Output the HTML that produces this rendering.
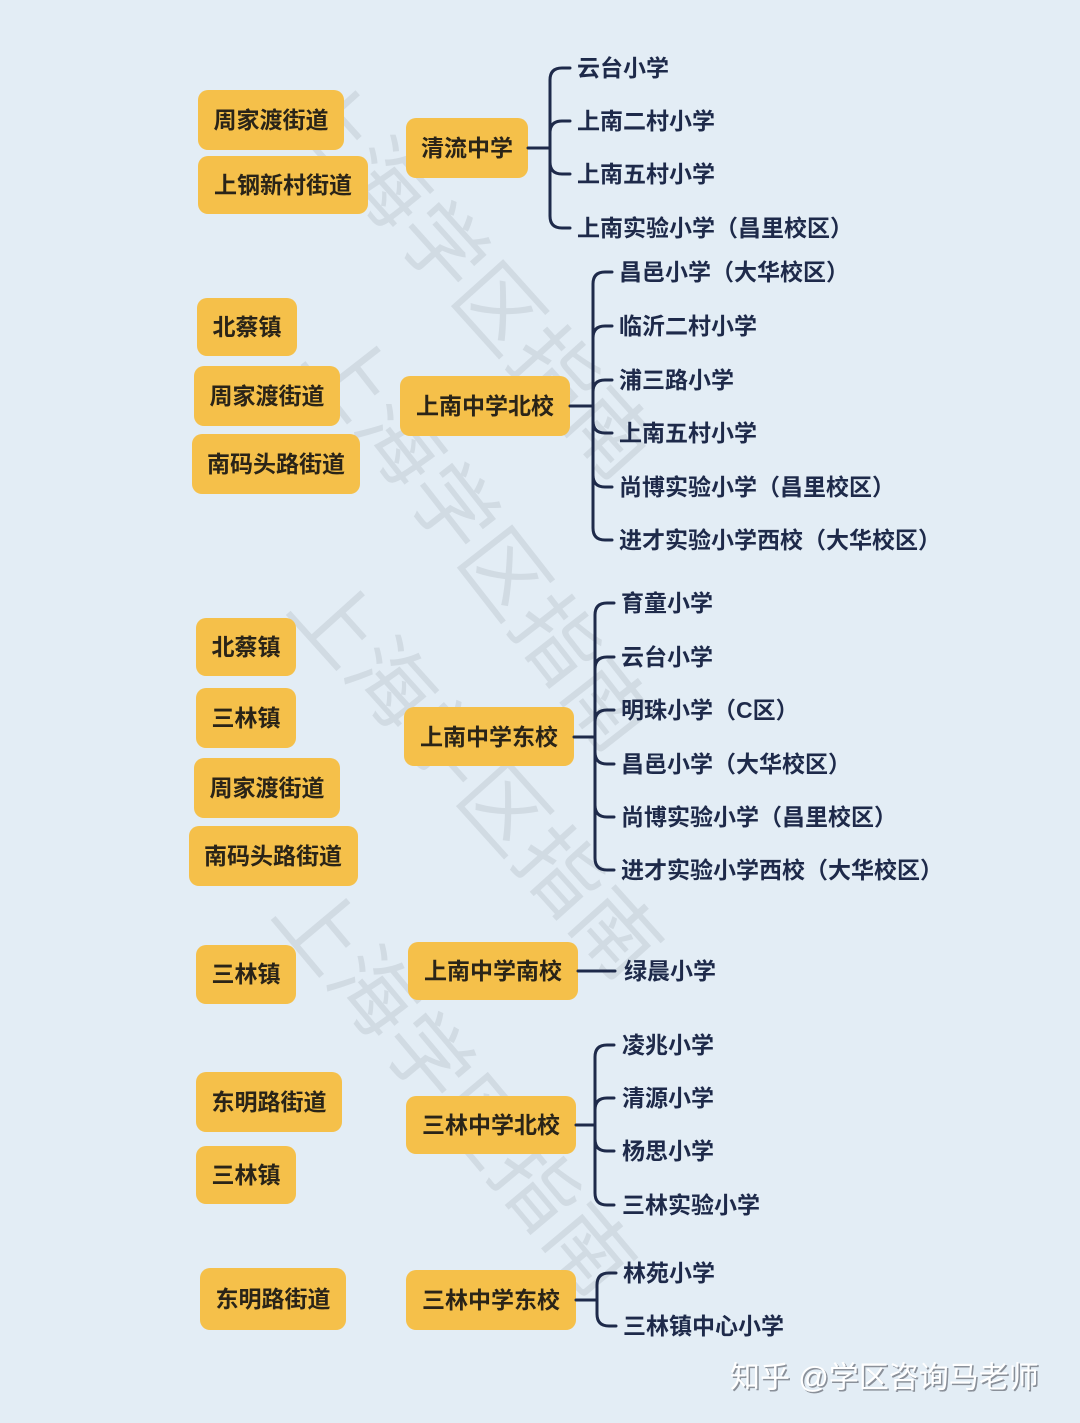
<!DOCTYPE html>
<html><head><meta charset="utf-8">
<style>
html,body{margin:0;padding:0;background:#e3edf5;}
svg{display:block;}
.b{fill:#f5c04a;}
.bt{font-family:"Liberation Sans","Noto Sans CJK SC",sans-serif;font-weight:bold;font-size:23px;fill:#2a2418;dominant-baseline:central;text-anchor:middle;}
.it{font-family:"Liberation Sans","Noto Sans CJK SC",sans-serif;font-weight:bold;font-size:23px;fill:#1e2a4a;dominant-baseline:central;}
.ln{fill:none;stroke:#1e2a4a;stroke-width:3;stroke-linecap:round;}
.wm{font-family:"Liberation Sans","Noto Sans CJK SC",sans-serif;font-size:84px;fill:#aab3bd;opacity:0.3;}
</style></head><body>
<svg width="1080" height="1423" viewBox="0 0 1080 1423" xmlns="http://www.w3.org/2000/svg">
<rect width="1080" height="1423" fill="#e3edf5"/>

<text class="wm" transform="translate(280,110) rotate(48)">上海学区指南</text>
<text class="wm" transform="translate(300,360) rotate(52)">上海学区指南</text>
<text class="wm" transform="translate(285,610) rotate(48)">上海学区指南</text>
<text class="wm" transform="translate(270,915) rotate(50)">上海学区指南</text>

<rect class="b" x="198" y="90" width="146" height="60" rx="10"/><text class="bt" x="271" y="120">周家渡街道</text>
<rect class="b" x="198" y="156" width="170" height="58" rx="10"/><text class="bt" x="283" y="185">上钢新村街道</text>
<rect class="b" x="406" y="118" width="122" height="60" rx="10"/><text class="bt" x="467" y="148">清流中学</text>
<path class="ln" d="M528,148 H550 M550,80 V216 M550,80 Q550,68 562,68 H570 M550,133 Q550,121 562,121 H570 M550,162 Q550,174 562,174 H570 M550,216 Q550,228 562,228 H570"/>
<text class="it" x="577" y="68">云台小学</text>
<text class="it" x="577" y="121">上南二村小学</text>
<text class="it" x="577" y="174">上南五村小学</text>
<text class="it" x="577" y="228">上南实验小学（昌里校区）</text>

<rect class="b" x="197" y="298" width="100" height="58" rx="10"/><text class="bt" x="247" y="327">北蔡镇</text>
<rect class="b" x="194" y="366" width="146" height="60" rx="10"/><text class="bt" x="267" y="396">周家渡街道</text>
<rect class="b" x="192" y="434" width="168" height="60" rx="10"/><text class="bt" x="276" y="464">南码头路街道</text>
<rect class="b" x="400" y="376" width="170" height="60" rx="10"/><text class="bt" x="485" y="406">上南中学北校</text>
<path class="ln" d="M570,406 H593 M593,284 V528 M593,284 Q593,272 605,272 H612 M593,338 Q593,326 605,326 H612 M593,392 Q593,380 605,380 H612 M593,421 Q593,433 605,433 H612 M593,475 Q593,487 605,487 H612 M593,528 Q593,540 605,540 H612"/>
<text class="it" x="619" y="272">昌邑小学（大华校区）</text>
<text class="it" x="619" y="326">临沂二村小学</text>
<text class="it" x="619" y="380">浦三路小学</text>
<text class="it" x="619" y="433">上南五村小学</text>
<text class="it" x="619" y="487">尚博实验小学（昌里校区）</text>
<text class="it" x="619" y="540">进才实验小学西校（大华校区）</text>

<rect class="b" x="196" y="618" width="100" height="58" rx="10"/><text class="bt" x="246" y="647">北蔡镇</text>
<rect class="b" x="196" y="688" width="100" height="60" rx="10"/><text class="bt" x="246" y="718">三林镇</text>
<rect class="b" x="194" y="758" width="146" height="60" rx="10"/><text class="bt" x="267" y="788">周家渡街道</text>
<rect class="b" x="189" y="826" width="169" height="60" rx="10"/><text class="bt" x="273" y="856">南码头路街道</text>
<rect class="b" x="404" y="707" width="170" height="59" rx="10"/><text class="bt" x="489" y="737">上南中学东校</text>
<path class="ln" d="M574,737 H595 M595,615 V858 M595,615 Q595,603 607,603 H614 M595,669 Q595,657 607,657 H614 M595,722 Q595,710 607,710 H614 M595,752 Q595,764 607,764 H614 M595,805 Q595,817 607,817 H614 M595,858 Q595,870 607,870 H614"/>
<text class="it" x="621" y="603">育童小学</text>
<text class="it" x="621" y="657">云台小学</text>
<text class="it" x="621" y="710">明珠小学（C区）</text>
<text class="it" x="621" y="764">昌邑小学（大华校区）</text>
<text class="it" x="621" y="817">尚博实验小学（昌里校区）</text>
<text class="it" x="621" y="870">进才实验小学西校（大华校区）</text>

<rect class="b" x="196" y="945" width="100" height="59" rx="10"/><text class="bt" x="246" y="974">三林镇</text>
<rect class="b" x="408" y="942" width="170" height="58" rx="10"/><text class="bt" x="493" y="971">上南中学南校</text>
<path class="ln" d="M578,971 H615"/>
<text class="it" x="624" y="971">绿晨小学</text>

<rect class="b" x="196" y="1072" width="146" height="60" rx="10"/><text class="bt" x="269" y="1102">东明路街道</text>
<rect class="b" x="196" y="1146" width="100" height="58" rx="10"/><text class="bt" x="246" y="1175">三林镇</text>
<rect class="b" x="406" y="1096" width="170" height="58" rx="10"/><text class="bt" x="491" y="1125">三林中学北校</text>
<path class="ln" d="M576,1125 H595 M595,1057 V1193 M595,1057 Q595,1045 607,1045 H614 M595,1110 Q595,1098 607,1098 H614 M595,1139 Q595,1151 607,1151 H614 M595,1193 Q595,1205 607,1205 H614"/>
<text class="it" x="622" y="1045">凌兆小学</text>
<text class="it" x="622" y="1098">清源小学</text>
<text class="it" x="622" y="1151">杨思小学</text>
<text class="it" x="622" y="1205">三林实验小学</text>

<rect class="b" x="200" y="1268" width="146" height="62" rx="10"/><text class="bt" x="273" y="1299">东明路街道</text>
<rect class="b" x="406" y="1270" width="170" height="60" rx="10"/><text class="bt" x="491" y="1300">三林中学东校</text>
<path class="ln" d="M576,1300 H597 M597,1285 V1314 M597,1285 Q597,1273 609,1273 H616 M597,1314 Q597,1326 609,1326 H616"/>
<text class="it" x="623" y="1273">林苑小学</text>
<text class="it" x="623" y="1326">三林镇中心小学</text>

<text x="730" y="1378" style="font-family:'Liberation Sans','Noto Sans CJK SC',sans-serif;font-size:30px;fill:#8a9099;dominant-baseline:central;" transform="translate(1.5,1.5)">知乎 @学区咨询马老师</text>
<text x="730" y="1378" style="font-family:'Liberation Sans','Noto Sans CJK SC',sans-serif;font-size:30px;fill:#ffffff;dominant-baseline:central;">知乎 @学区咨询马老师</text>
</svg>
</body></html>
